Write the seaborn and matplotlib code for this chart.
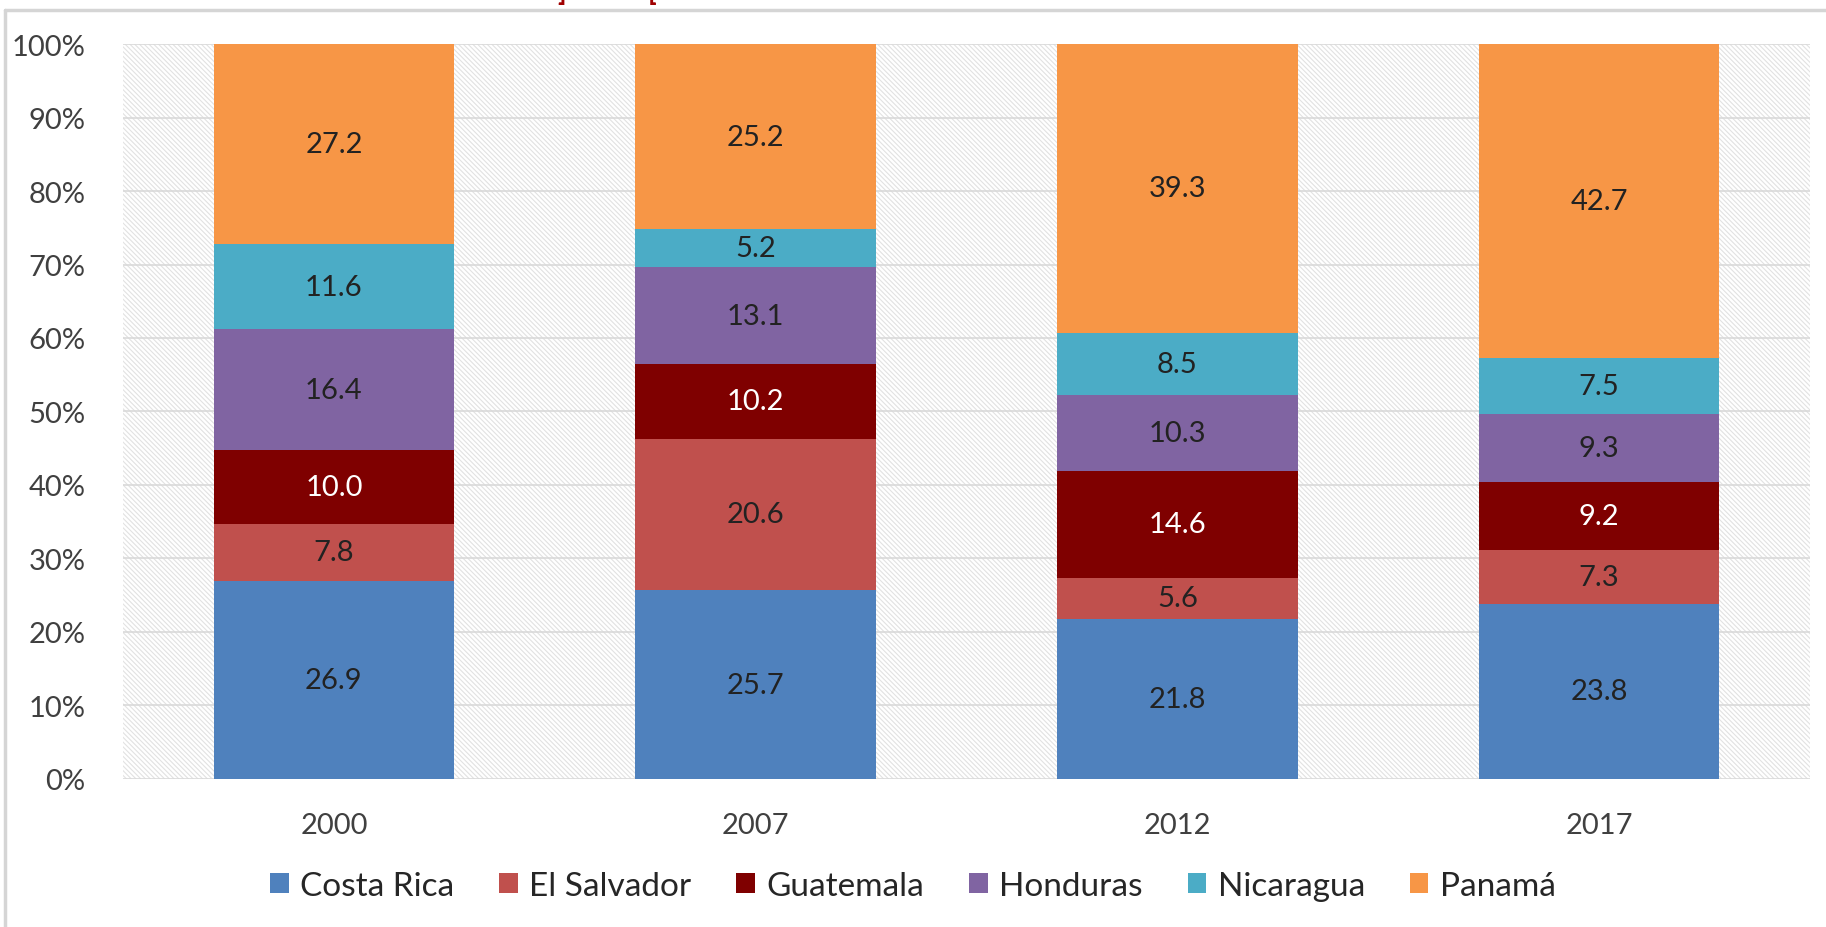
import pandas as pd
import numpy as np
import matplotlib
matplotlib.use("Agg")
import matplotlib.pyplot as plt
import seaborn as sns
from matplotlib.patches import Rectangle, Patch
from matplotlib.lines import Line2D
from matplotlib.ticker import PercentFormatter

# Data: share (%) of each country per year
years = ["2000", "2007", "2012", "2017"]
countries = ["Costa Rica", "El Salvador", "Guatemala", "Honduras", "Nicaragua", "Panamá"]
costa_rica = [26.9, 25.7, 21.8, 23.8]
el_salvador = [7.8, 20.6, 5.6, 7.3]
guatemala = [10.0, 10.2, 14.6, 9.2]
honduras = [16.4, 13.1, 10.3, 9.3]
nicaragua = [11.6, 5.2, 8.5, 7.5]
panama = [27.2, 25.2, 39.3, 42.7]

colors = ["#4F81BD", "#C0504D", "#7F0000", "#8064A2", "#4BACC6", "#F79646"]
label_colors = ["#222222", "#222222", "white", "#222222", "#222222", "#222222"]

series = [costa_rica, el_salvador, guatemala, honduras, nicaragua, panama]
df = pd.DataFrame({"Year": years})
for name, vals in zip(countries, series):
    df[name] = vals
totals = df[countries].sum(axis=1)

sns.set_style("white")
plt.rcParams["font.family"] = ["Lato", "DejaVu Sans"]
plt.rcParams["hatch.linewidth"] = 0.8

fig = plt.figure(figsize=(18.26, 9.28), dpi=100)
ax = fig.add_axes([0.0674, 0.1595, 0.9238, 0.7920])

# Hatched background of the plot area
bg = Rectangle((0, 0), 1, 1, transform=ax.transAxes, facecolor="white",
               edgecolor="#E2E2E2", hatch="\\" * 7, linewidth=0, zorder=0)
ax.add_patch(bg)

# --- Stacked 100% bars ---
bottom = np.zeros(len(years))
for name, color, lc in zip(countries, colors, label_colors):
    share = (df[name] / totals * 100).values
    sns.barplot(x=df["Year"], y=share, color=color, saturation=1, bottom=bottom,
                width=0.57, ax=ax, zorder=2, linewidth=0)
    for i, (v, b) in enumerate(zip(df[name].values, bottom)):
        ax.text(i, b + share[i] / 2, f"{v:.1f}", ha="center", va="center",
                fontsize=21, color=lc, zorder=3)
    bottom = bottom + share

# Formatting
ax.set_ylim(0, 100)
ax.set_xlim(-0.5, 3.5)
ax.set_yticks(range(0, 101, 10))
ax.yaxis.set_major_formatter(PercentFormatter(decimals=0))
ax.set_xlabel("")
ax.set_ylabel("")
ax.tick_params(axis="both", length=0, labelsize=21, labelcolor="#404040")
ax.tick_params(axis="y", pad=27)
ax.tick_params(axis="x", pad=24)
ax.yaxis.grid(True, color="#D9D9D9", linewidth=1.2, zorder=1)
ax.set_axisbelow(True)
for s in ax.spines.values():
    s.set_visible(False)

# Legend
handles = [Patch(facecolor=c, edgecolor="none") for c in colors]
fig.legend(handles, countries, loc="center", bbox_to_anchor=(0.5, 0.044), ncol=6,
           frameon=False, fontsize=24, handlelength=0.55, handleheight=0.55,
           handletextpad=0.35, columnspacing=1.35, labelcolor="#262626")

# Frame of the screenshot and clipped red title pieces
fig.add_artist(Line2D([0.003, 1.0], [0.988, 0.988], transform=fig.transFigure,
                      color="#D5D5D5", linewidth=2.5))
fig.add_artist(Line2D([0.003, 0.003], [0.0, 0.988], transform=fig.transFigure,
                      color="#D5D5D5", linewidth=2.5))
fig.text(0.305, 1.0, "]", color="#A00000", fontsize=20, fontweight="bold", va="baseline")
fig.text(0.355, 1.0, "[", color="#A00000", fontsize=20, fontweight="bold", va="baseline")

fig.savefig("out.png", dpi=100, facecolor="white")
